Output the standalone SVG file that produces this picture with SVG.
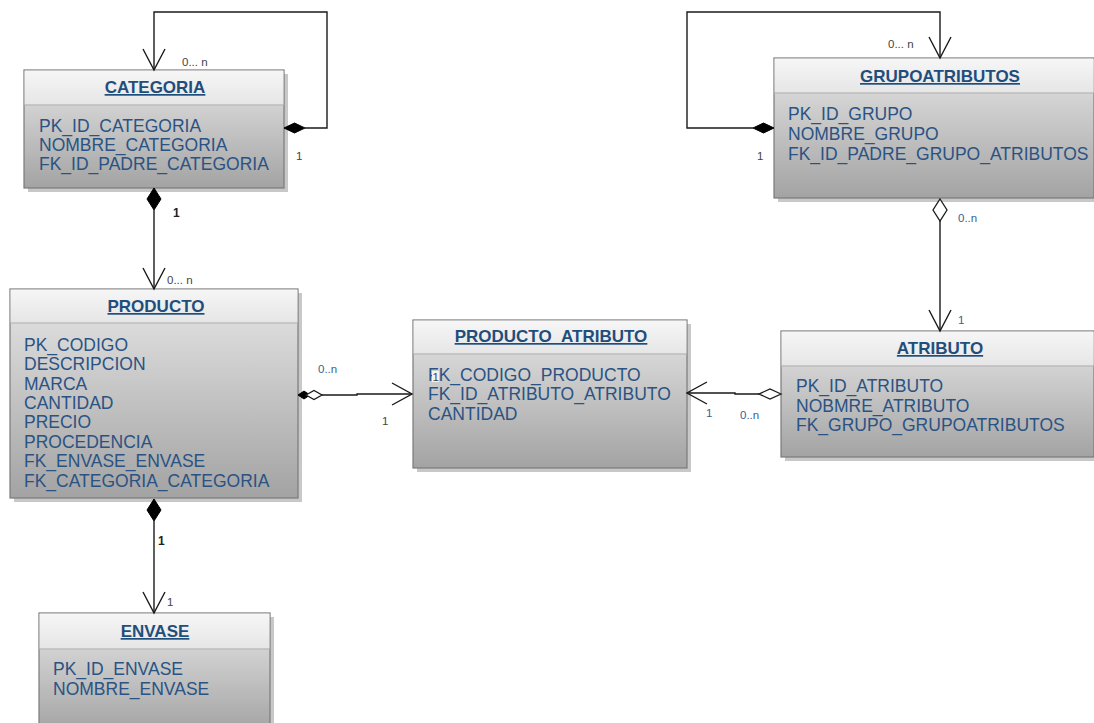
<svg xmlns="http://www.w3.org/2000/svg" width="1094" height="723" viewBox="0 0 1094 723">
<style>
.box{stroke:#7a7a7a;stroke-width:1.2}
.hdr{fill:url(#gh)}
.body{fill:url(#gb)}
.shadow{fill:#c8c8c8}
.sep{stroke:#b0b0b0;stroke-width:1.2}
.title{font-family:"Liberation Sans",Arial,sans-serif;font-size:17px;font-weight:bold;fill:#1f4e7c;text-decoration:underline;text-anchor:middle}
.attr{font-family:"Liberation Sans",Arial,sans-serif;font-size:17.5px;fill:#2a5384}
.conn{fill:none;stroke:#1a1a1a;stroke-width:1.4}
.fd{fill:#000;stroke:#000;stroke-width:1}
.od{fill:#fff;stroke:#1a1a1a;stroke-width:1.3}
.lg{font-family:"Liberation Sans",Arial,sans-serif;font-size:11.5px;fill:#444}
.lb{font-family:"Liberation Sans",Arial,sans-serif;font-size:11.5px;fill:#3a5f8e}
.lk{font-family:"Liberation Sans",Arial,sans-serif;font-size:12px;fill:#222;font-weight:bold}
</style>
<defs>
<linearGradient id="gh" x1="0" y1="0" x2="0" y2="1"><stop offset="0" stop-color="#f6f6f6"/><stop offset="1" stop-color="#e6e6e6"/></linearGradient>
<linearGradient id="gb" x1="0" y1="0" x2="0" y2="1"><stop offset="0" stop-color="#e6e6e6"/><stop offset="1" stop-color="#a3a3a3"/></linearGradient>
</defs>
<rect width="1094" height="723" fill="#fff"/>

<g id="CATEGORIA">
<rect class="shadow" x="28" y="74" width="260" height="118"/>
<rect class="body box" x="24" y="70" width="260" height="118"/>
<rect class="hdr" x="24.6" y="70.6" width="258.8" height="34"/>
<line class="sep" x1="24" y1="105" x2="284" y2="105"/>
<text class="title" x="155" y="93">CATEGORIA</text>
<text class="attr" x="39" y="132">PK_ID_CATEGORIA</text>
<text class="attr" x="39" y="151">NOMBRE_CATEGORIA</text>
<text class="attr" x="39" y="170">FK_ID_PADRE_CATEGORIA</text>
</g>

<g id="PRODUCTO">
<rect class="shadow" x="14" y="293" width="288" height="209"/>
<rect class="body box" x="10" y="289" width="288" height="209"/>
<rect class="hdr" x="10.6" y="289.6" width="286.8" height="33"/>
<line class="sep" x1="10" y1="323" x2="298" y2="323"/>
<text class="title" x="156" y="312">PRODUCTO</text>
<text class="attr" x="24" y="351">PK_CODIGO</text>
<text class="attr" x="24" y="370">DESCRIPCION</text>
<text class="attr" x="24" y="390">MARCA</text>
<text class="attr" x="24" y="409">CANTIDAD</text>
<text class="attr" x="24" y="428">PRECIO</text>
<text class="attr" x="24" y="448">PROCEDENCIA</text>
<text class="attr" x="24" y="467">FK_ENVASE_ENVASE</text>
<text class="attr" x="24" y="487">FK_CATEGORIA_CATEGORIA</text>
</g>

<g id="ENVASE">
<rect class="shadow" x="43" y="617" width="231" height="120"/>
<rect class="body box" x="39" y="613" width="231" height="120"/>
<rect class="hdr" x="39.6" y="613.6" width="229.8" height="35"/>
<line class="sep" x1="39" y1="649" x2="270" y2="649"/>
<text class="title" x="155" y="637">ENVASE</text>
<text class="attr" x="53" y="675">PK_ID_ENVASE</text>
<text class="attr" x="53" y="695">NOMBRE_ENVASE</text>
</g>

<g id="PRODUCTO_ATRIBUTO">
<rect class="shadow" x="417" y="324" width="274" height="148"/>
<rect class="body box" x="413" y="320" width="274" height="148"/>
<rect class="hdr" x="413.6" y="320.6" width="272.8" height="33"/>
<line class="sep" x1="413" y1="354" x2="687" y2="354"/>
<text class="title" x="551" y="342">PRODUCTO_ATRIBUTO</text>
<text class="attr" x="428" y="381">FK_CODIGO_PRODUCTO</text>
<text class="attr" x="428" y="400">FK_ID_ATRIBUTO_ATRIBUTO</text>
<text class="attr" x="428" y="420">CANTIDAD</text>
<rect x="432" y="371" width="7" height="11" fill="#f2f2f2"/>
<text class="lg" x="432.5" y="381" font-size="10px">1</text>
</g>

<g id="GRUPOATRIBUTOS">
<rect class="shadow" x="778" y="62" width="320" height="140"/>
<rect class="body box" x="774" y="58" width="320" height="140"/>
<rect class="hdr" x="774.6" y="58.6" width="319" height="34"/>
<line class="sep" x1="774" y1="93" x2="1094" y2="93"/>
<text class="title" x="940" y="82">GRUPOATRIBUTOS</text>
<text class="attr" x="788" y="120">PK_ID_GRUPO</text>
<text class="attr" x="788" y="140">NOMBRE_GRUPO</text>
<text class="attr" x="788" y="160">FK_ID_PADRE_GRUPO_ATRIBUTOS</text>
</g>

<g id="ATRIBUTO">
<rect class="shadow" x="785" y="335" width="313" height="126"/>
<rect class="body box" x="781" y="331" width="313" height="126"/>
<rect class="hdr" x="781.6" y="331.6" width="312" height="34"/>
<line class="sep" x1="781" y1="366" x2="1094" y2="366"/>
<text class="title" x="940" y="354">ATRIBUTO</text>
<text class="attr" x="796" y="392">PK_ID_ATRIBUTO</text>
<text class="attr" x="796" y="412">NOBMRE_ATRIBUTO</text>
<text class="attr" x="796" y="431">FK_GRUPO_GRUPOATRIBUTOS</text>
</g>

<g id="connectors">
<polyline class="conn" points="305,128 327,128 327,12 154,12 154,70"/>
<polyline class="conn" points="143,49 154,70 165,49"/>
<polygon class="fd" points="284,128 294.5,123 305,128 294.5,133"/>
<text class="lg" x="182" y="66">0... n</text>
<text class="lg" x="296" y="160">1</text>

<line class="conn" x1="154" y1="210" x2="154" y2="289"/>
<polyline class="conn" points="143,268 154,289 165,268"/>
<polygon class="fd" points="154,188 161,199 154,210 147,199"/>
<text class="lk" x="173" y="217">1</text>
<text class="lg" x="167" y="284">0... n</text>

<line class="conn" x1="154" y1="521" x2="154" y2="613"/>
<polyline class="conn" points="143,592 154,613 165,592"/>
<polygon class="fd" points="154,499 161,510 154,521 147,510"/>
<text class="lk" x="158" y="545">1</text>
<text class="lg" x="167" y="606">1</text>

<polyline class="conn" points="322,395 357,395 357,394 412,394"/>
<polyline class="conn" points="392,383 412,394 392,405"/>
<polygon class="fd" points="298,395 304,391 310,395 304,399"/>
<polygon class="od" points="306,395 314,390.5 322,395 314,399.5"/>
<text class="lb" x="318" y="373">0..n</text>
<text class="lg" x="382" y="425">1</text>

<polyline class="conn" points="759,394 735,394 735,393 687,393"/>
<polyline class="conn" points="707,382 687,393 707,404"/>
<polygon class="od" points="781,394 770,389 759,394 770,399"/>
<text class="lb" x="706" y="417">1</text>
<text class="lb" x="740" y="419">0..n</text>

<polyline class="conn" points="753,128 687,128 687,12 940,12 940,58"/>
<polyline class="conn" points="929,37 940,58 951,37"/>
<polygon class="fd" points="774,128 763.5,123 753,128 763.5,133"/>
<text class="lg" x="888" y="48">0... n</text>
<text class="lg" x="757" y="160">1</text>

<line class="conn" x1="940" y1="221" x2="940" y2="331"/>
<polyline class="conn" points="929,310 940,331 951,310"/>
<polygon class="od" points="940,199 947,210 940,221 933,210"/>
<text class="lb" x="958" y="222">0..n</text>
<text class="lb" x="958" y="324">1</text>
</g>
</svg>
